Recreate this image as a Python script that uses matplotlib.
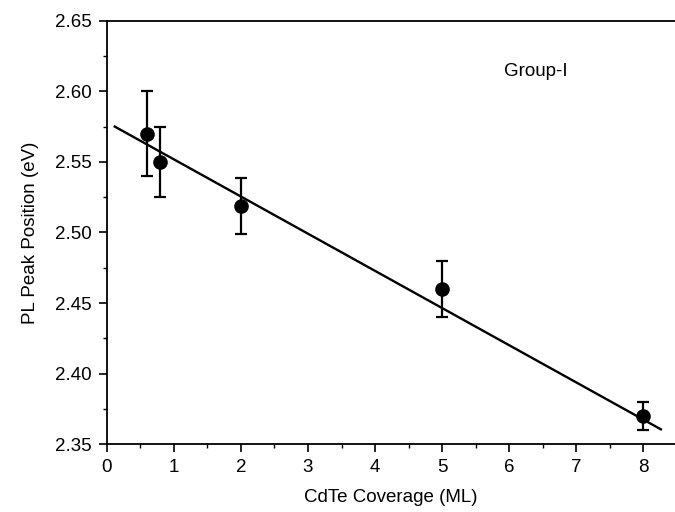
import matplotlib
matplotlib.use("Agg")
import matplotlib.pyplot as plt
from matplotlib.ticker import MultipleLocator

# PL peak vs CdTe coverage (Group-I)
coverage = [0.6, 0.8, 2.0, 5.0, 8.0]
peak = [2.570, 2.550, 2.519, 2.460, 2.370]
peak_err = [0.030, 0.025, 0.020, 0.020, 0.010]

# linear fit line
fit_x = [0.12, 8.26]
fit_slope = -0.02638
fit_icpt = 2.5783

plt.rcParams["font.family"] = ["Liberation Sans", "DejaVu Sans"]

fig = plt.figure(figsize=(6.75, 5.12), dpi=100)
ax = fig.add_axes([0.158, 0.1328, 0.842, 0.8262])

fit_y = [fit_icpt + fit_slope * x for x in fit_x]
ax.plot(fit_x, fit_y, color="black", linewidth=1.7)
ax.errorbar(coverage, peak, yerr=peak_err, fmt="o", color="black",
            markersize=9.5, elinewidth=1.6, capsize=4, capthick=1.6)

ax.set_xlim(0, 8.47)
ax.set_ylim(2.35, 2.65)
ax.xaxis.set_major_locator(MultipleLocator(1))
ax.xaxis.set_minor_locator(MultipleLocator(0.5))
ax.yaxis.set_major_locator(MultipleLocator(0.05))
ax.yaxis.set_minor_locator(MultipleLocator(0.025))
ax.yaxis.set_major_formatter(plt.FormatStrFormatter("%.2f"))

ax.spines["right"].set_visible(False)
for s in ("left", "bottom", "top"):
    ax.spines[s].set_linewidth(1.3)
ax.tick_params(which="major", direction="out", length=6, width=1.2,
               labelsize=13.5, pad=5, top=False, right=False)
ax.tick_params(which="minor", direction="out", length=3, width=1.0,
               top=False, right=False)

ax.set_xlabel("CdTe Coverage (ML)", fontsize=13.5, labelpad=9)
ax.set_ylabel("PL Peak Position (eV)", fontsize=13.5, labelpad=11)
ax.text(6.4, 2.614, "Group-I", fontsize=13.5, ha="center", va="center")

fig.savefig("out.png", dpi=100)
